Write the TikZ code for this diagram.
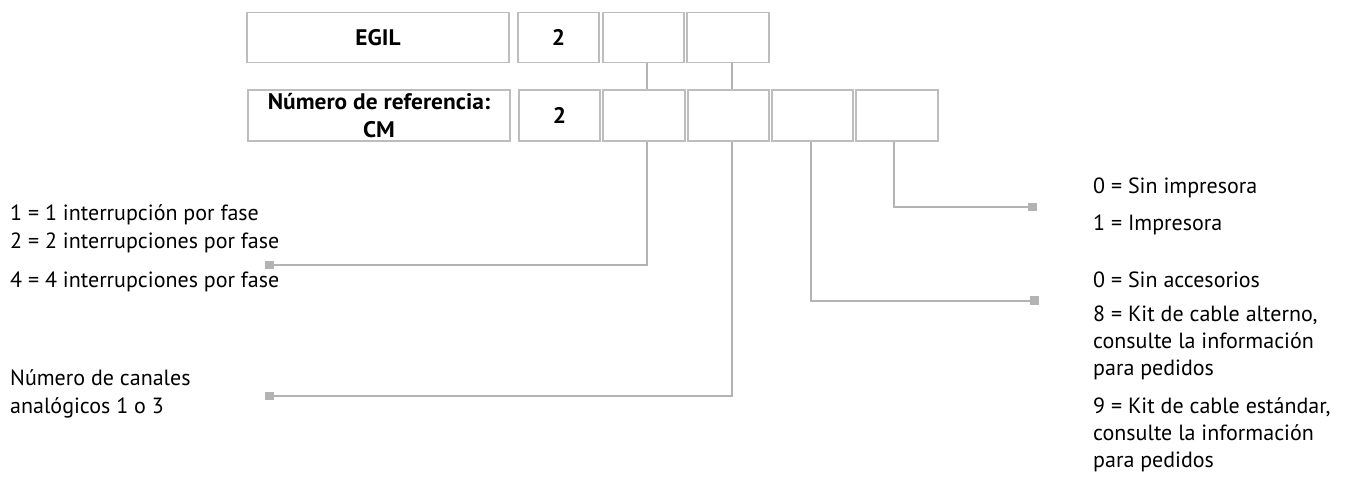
\documentclass[tikz,border=0pt]{standalone}
\usepackage{fontspec}
\setmainfont{PT Sans}
\definecolor{boxgray}{HTML}{BDBDBD}
\definecolor{linegray}{HTML}{B3B3B3}
\begin{document}
\begin{tikzpicture}[x=1pt,y=-1pt,
  cell/.style={draw=boxgray,line width=1.6pt,minimum height=50pt,inner sep=0pt,
    font=\bfseries\fontsize{22.5}{29}\selectfont\addfontfeature{FakeStretch=1.04},align=center},
  conn/.style={draw=linegray,line width=2pt},
  endsq/.style={fill=linegray,minimum size=8.5pt,inner sep=0pt},
  txt/.style={anchor=base west,inner sep=0pt,font=\fontsize{22}{28}\selectfont}]
\useasboundingbox (0,0) rectangle (1354,479);
% row 1
\node[cell,minimum width=262pt] (t1) at (378,37.5) {EGIL};
\node[cell,minimum width=81pt] (t2) at (558.5,37.5) {2};
\node[cell,minimum width=81pt] (t3) at (643.5,37.5) {};
\node[cell,minimum width=82pt] (t4) at (728,37.5) {};
% row 2
\node[cell,minimum width=262pt,minimum height=51pt] (r1) at (379,115.5) {Número de referencia:\\[-1pt]CM};
\node[cell,minimum width=81pt,minimum height=51pt] (r2) at (559.5,115.5) {2};
\node[cell,minimum width=82pt,minimum height=51pt] (r3) at (644,115.5) {};
\node[cell,minimum width=81pt,minimum height=51pt] (r4) at (728.5,115.5) {};
\node[cell,minimum width=81pt,minimum height=51pt] (r5) at (812.5,115.5) {};
\node[cell,minimum width=82pt,minimum height=51pt] (r6) at (897,115.5) {};
% end squares
\node[endsq] (s1) at (269.5,265) {};
\node[endsq] (s2) at (269.5,396) {};
\node[endsq] (s3) at (1034.5,300.5) {};
\node[endsq] (s4) at (1032.5,207) {};
% connectors
\draw[conn] ([xshift=3.5pt]t3.south) -- ([xshift=3pt]r3.north);
\draw[conn] ([xshift=4pt]t4.south) -- ([xshift=3.5pt]r4.north);
\draw[conn] ([xshift=3pt]r3.south) |- (s1.center);
\draw[conn] ([xshift=3.5pt]r4.south) |- (s2.center);
\draw[conn] ([xshift=-1.5pt]r5.south) |- (s3.center);
\draw[conn] ([xshift=-3pt]r6.south) |- (s4.center);
% left texts
\node[txt] (l1) at (10,220) {1 = 1 interrupción por fase};
\node[txt] (l2) at (10,248) {2 = 2 interrupciones por fase};
\node[txt] (l3) at (10,287) {4 = 4 interrupciones por fase};
\node[txt] (l4) at (10,385) {Número de canales};
\node[txt] (l5) at (10,413) {analógicos 1 o 3};
% right texts
\node[txt] (p1) at (1093,193) {0 = Sin impresora};
\node[txt] (p2) at (1093,230) {1 = Impresora};
\node[txt] (a1) at (1093,287) {0 = Sin accesorios};
\node[txt] (a2) at (1093,321) {8 = Kit de cable alterno,};
\node[txt] (a3) at (1093,348) {consulte la información};
\node[txt] (a4) at (1093,375) {para pedidos};
\node[txt] (a5) at (1093,413) {9 = Kit de cable estándar,};
\node[txt] (a6) at (1093,440) {consulte la información};
\node[txt] (a7) at (1093,467) {para pedidos};
\end{tikzpicture}
\end{document}
